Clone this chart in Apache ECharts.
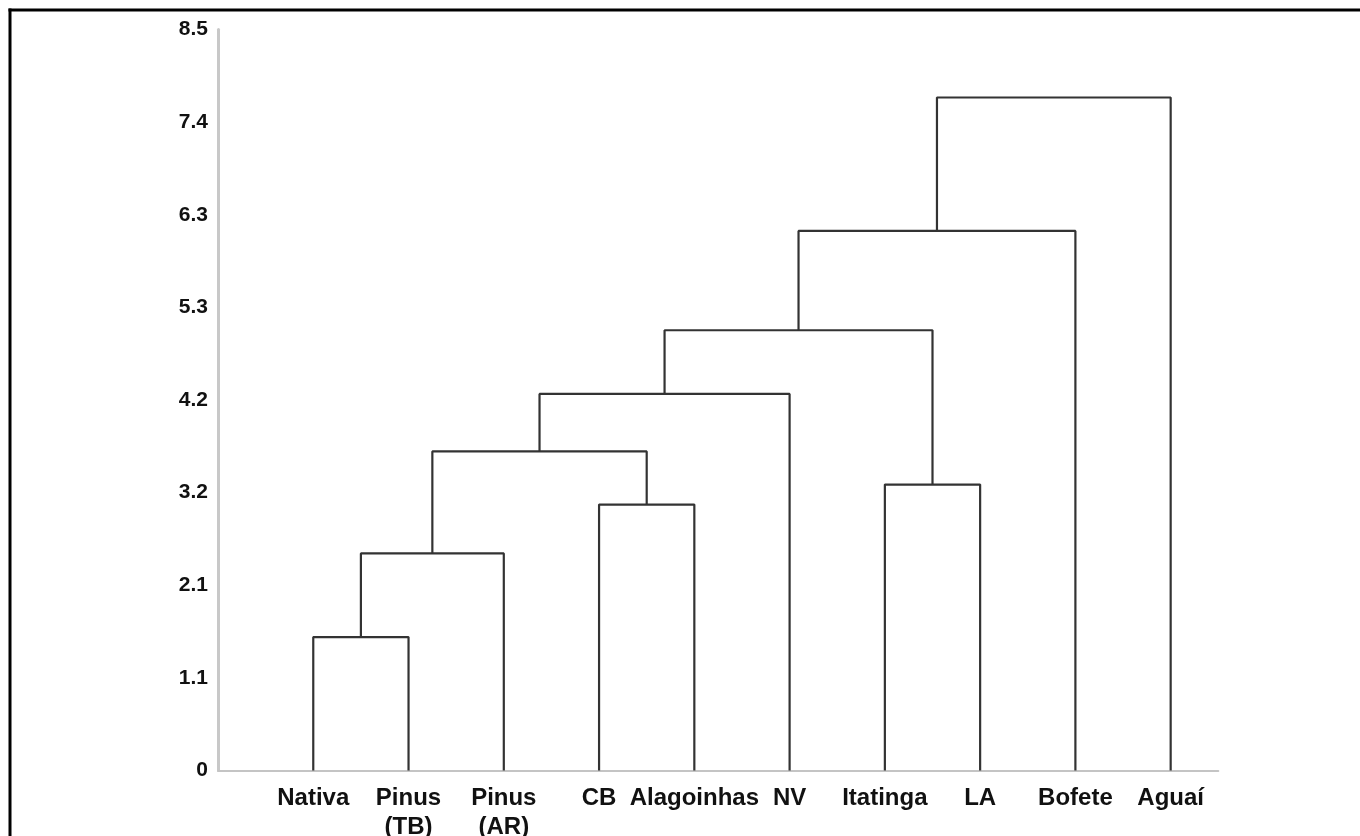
<!DOCTYPE html>
<html>
<head>
<meta charset="utf-8">
<script src="https://cdn.jsdelivr.net/npm/echarts@6/dist/echarts.min.js"></script>
<style>
html,body{margin:0;padding:0;background:#fff;}
#chart{width:1360px;height:836px;}
</style>
</head>
<body>
<div id="chart"></div>
<script>
// Leaves in display order
var leaves = ['Nativa', 'Pinus\n(TB)', 'Pinus\n(AR)', 'CB', 'Alagoinhas', 'NV', 'Itatinga', 'LA', 'Bofete', 'Aguaí'];
// Linkage: [cluster A, cluster B] (0-9 leaves, 10+ merged clusters in order)
var mergePairs = [[0, 1], [10, 2], [3, 4], [11, 12], [13, 5], [6, 7], [14, 15], [16, 8], [17, 9]];
var mergeHeights = [1.53, 2.49, 3.05, 3.66, 4.32, 3.28, 5.05, 6.19, 7.72];
var yTickLabels = ['0', '1.1', '2.1', '3.2', '4.2', '5.3', '6.3', '7.4', '8.5'];

var yMax = 8.5;
var yInterval = yMax / (yTickLabels.length - 1);

// node positions: leaves at 1..n
var nodeX = [], nodeY = [];
leaves.forEach(function (l, i) { nodeX.push(i + 1); nodeY.push(0); });
var series = [];
mergePairs.forEach(function (p, k) {
  var a = p[0], b = p[1], h = mergeHeights[k];
  series.push({
    type: 'line',
    data: [[nodeX[a], nodeY[a]], [nodeX[a], h], [nodeX[b], h], [nodeX[b], nodeY[b]]],
    symbol: 'none',
    silent: true,
    lineStyle: { color: '#333333', width: 2.2 },
    z: 3
  });
  nodeX.push((nodeX[a] + nodeX[b]) / 2);
  nodeY.push(h);
});

var chart = echarts.init(document.getElementById('chart'), null, { renderer: 'canvas' });
chart.setOption({
  backgroundColor: '#ffffff',
  animation: false,
  grid: { left: 218, right: 141.7, top: 29.5, bottom: 65.5, containLabel: false, outerBoundsMode: 'none' },
  xAxis: {
    type: 'value',
    min: 0,
    max: 10.5,
    interval: 1,
    splitLine: { show: false },
    axisTick: { show: false },
    axisLine: { show: true, onZero: false, lineStyle: { color: '#c4c4c4', width: 2 } },
    axisLabel: {
      showMaxLabel: false,
      margin: 13,
      color: '#111111',
      fontFamily: 'Liberation Sans, Arial, sans-serif',
      fontWeight: 'bold',
      fontSize: 24,
      lineHeight: 29,
      formatter: function (v) {
        var i = Math.round(v) - 1;
        return (i >= 0 && i < leaves.length) ? leaves[i] : '';
      }
    }
  },
  yAxis: {
    type: 'value',
    min: 0,
    max: yMax,
    interval: yInterval,
    splitLine: { show: false },
    axisTick: { show: false },
    axisLine: { show: true, lineStyle: { color: '#c8c8c8', width: 3 } },
    axisLabel: {
      margin: 10,
      color: '#111111',
      fontFamily: 'Liberation Sans, Arial, sans-serif',
      fontWeight: 'bold',
      fontSize: 21,
      formatter: function (v) {
        var i = Math.round(v / yInterval);
        return yTickLabels[i] !== undefined ? yTickLabels[i] : '';
      }
    }
  },
  graphic: [
    { type: 'line', shape: { x1: 8.5, y1: 10, x2: 1360, y2: 10 }, style: { stroke: '#000', lineWidth: 3 } },
    { type: 'line', shape: { x1: 10, y1: 8.5, x2: 10, y2: 836 }, style: { stroke: '#000', lineWidth: 3 } }
  ],
  series: series
});
</script>
</body>
</html>
